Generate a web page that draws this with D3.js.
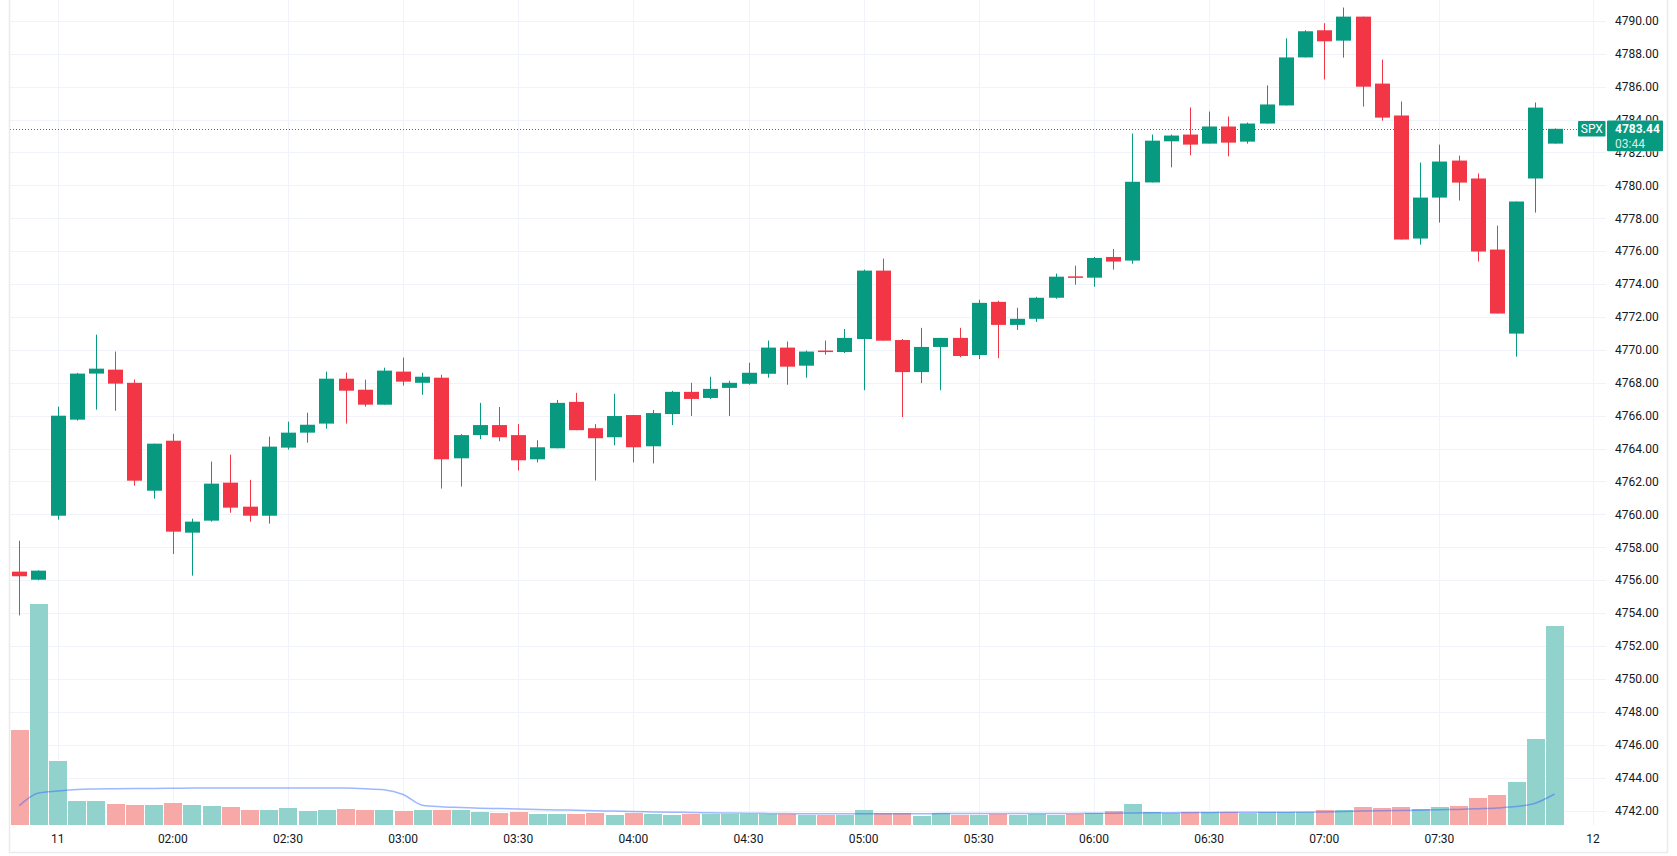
<!DOCTYPE html>
<html>
<head>
<meta charset="utf-8">
<script src="https://cdn.jsdelivr.net/npm/d3@7"></script>
<style>
    html, body { margin: 0; padding: 0; background: #fff; }
    svg { display: block; font-family: -apple-system, BlinkMacSystemFont, "Trebuchet MS", Roboto, Ubuntu, sans-serif; }
</style>
</head>
<body>
<svg id="chart" width="1677" height="856"></svg>
<script>
// 5 minute bars, SPX, day 11 from 01:20
var open = [4756.52, 4756.03, 4759.92, 4765.76, 4768.56, 4768.80, 4768.00, 4761.44, 4764.48, 4758.89,
    4759.62, 4761.93, 4760.47, 4759.92, 4764.06, 4764.97, 4765.52, 4768.25, 4767.58, 4766.67,
    4768.68, 4768.00, 4768.31, 4763.41, 4764.82, 4765.43, 4764.82, 4763.35, 4764.02, 4766.84,
    4765.24, 4764.69, 4766.04, 4764.14, 4766.10, 4767.45, 4767.08, 4767.69, 4767.94, 4768.55,
    4770.14, 4769.04, 4769.96, 4769.87, 4770.66, 4774.82, 4770.60, 4768.65, 4770.18, 4770.73,
    4769.69, 4772.92, 4771.52, 4771.89, 4773.17, 4774.47, 4774.39, 4775.65, 4775.43, 4780.18,
    4782.68, 4783.09, 4782.54, 4783.58, 4782.66, 4783.76, 4784.86, 4787.78, 4789.43, 4788.80,
    4790.26, 4786.19, 4784.25, 4776.77, 4779.26, 4781.51, 4780.42, 4776.10, 4770.99, 4780.42,
    4782.54]
var high = [4758.40, 4756.60, 4766.55, 4768.60, 4770.93, 4769.90, 4768.20, 4764.30, 4764.90, 4759.74,
    4763.21, 4763.63, 4762.10, 4764.73, 4765.64, 4766.18, 4768.68, 4768.62, 4768.19, 4768.92,
    4769.53, 4768.61, 4768.49, 4764.88, 4766.78, 4766.53, 4765.49, 4764.51, 4766.96, 4767.39,
    4765.49, 4767.33, 4766.04, 4766.35, 4767.51, 4768.00, 4768.37, 4768.12, 4769.22, 4770.57,
    4770.51, 4769.96, 4770.57, 4771.27, 4774.88, 4775.55, 4770.66, 4771.34, 4770.73, 4771.34,
    4773.05, 4772.99, 4772.56, 4773.23, 4774.64, 4775.12, 4775.65, 4776.14, 4783.15, 4783.09,
    4783.09, 4784.74, 4784.49, 4784.19, 4783.82, 4786.08, 4788.94, 4789.43, 4789.86, 4790.81,
    4790.26, 4787.65, 4785.10, 4781.39, 4782.48, 4781.81, 4780.72, 4777.56, 4779.02, 4785.04,
    4783.46]
var low = [4753.86, 4756.00, 4759.68, 4765.70, 4766.37, 4766.30, 4761.75, 4760.96, 4757.60, 4756.28,
    4759.56, 4760.10, 4759.56, 4759.44, 4763.94, 4764.36, 4765.21, 4765.52, 4766.55, 4766.67,
    4767.83, 4767.27, 4761.57, 4761.69, 4764.57, 4764.45, 4762.67, 4763.16, 4764.02, 4765.12,
    4762.06, 4764.20, 4763.16, 4763.10, 4765.43, 4765.98, 4767.02, 4765.98, 4767.88, 4768.31,
    4767.88, 4768.31, 4769.71, 4769.81, 4767.55, 4770.56, 4765.92, 4767.98, 4767.55, 4769.56,
    4769.44, 4769.50, 4771.21, 4771.70, 4773.11, 4773.96, 4773.84, 4774.88, 4775.24, 4780.18,
    4781.10, 4781.83, 4782.54, 4781.77, 4782.54, 4783.76, 4784.86, 4787.78, 4786.44, 4787.77,
    4784.79, 4783.94, 4776.71, 4776.40, 4777.74, 4779.08, 4775.37, 4772.21, 4769.59, 4778.35,
    4782.54]
var close = [4756.24, 4756.58, 4766.00, 4768.56, 4768.86, 4767.95, 4762.05, 4764.30, 4758.95, 4759.56,
    4761.87, 4760.41, 4759.92, 4764.12, 4764.97, 4765.45, 4768.25, 4767.52, 4766.67, 4768.74,
    4768.07, 4768.37, 4763.35, 4764.82, 4765.43, 4764.69, 4763.29, 4764.08, 4766.78, 4765.12,
    4764.63, 4765.98, 4764.08, 4766.16, 4767.45, 4767.02, 4767.63, 4768.00, 4768.61, 4770.14,
    4768.98, 4769.90, 4769.92, 4770.73, 4774.82, 4770.56, 4768.65, 4770.18, 4770.73, 4769.63,
    4772.86, 4771.52, 4771.89, 4773.17, 4774.45, 4774.43, 4775.59, 4775.37, 4780.22, 4782.72,
    4783.03, 4782.48, 4783.58, 4782.60, 4783.76, 4784.92, 4787.78, 4789.37, 4788.76, 4790.26,
    4786.00, 4784.12, 4776.71, 4779.26, 4781.45, 4780.17, 4775.98, 4772.21, 4779.02, 4784.73,
    4783.44]
var volume = [95, 221, 64, 24, 24, 21, 20, 20, 22, 20,
    19, 18, 15, 15, 17, 14, 15, 16, 15, 15,
    14, 15, 15, 15, 13, 12, 13, 11, 11, 11,
    12, 10, 12, 11, 10, 11, 11, 11, 11, 11,
    11, 10, 10, 10, 15, 12, 12, 9, 12, 10,
    10, 11, 10, 11, 10, 11, 12, 14, 21, 13,
    12, 13, 13, 13, 12, 13, 13, 13, 15, 15,
    18, 17, 18, 16, 18, 19, 27, 30, 43, 86,
    199]
var volumeMA = [19.4, 32, 34, 35.5, 36, 36.3, 36.5, 36.6, 36.8, 36.9,
    37, 37, 37.1, 37.1, 37.1, 37.1, 37, 36.9, 36.3, 35.3,
    30.5, 19.8, 18.2, 17.5, 16.8, 16.4, 16, 15.5, 15.1, 14.7,
    14.3, 13.9, 13.5, 13.1, 12.8, 12.5, 12.2, 12, 11.8, 11.6,
    11.4, 11.3, 11.2, 11.2, 11.3, 11.3, 11.3, 11.3, 11.4, 11.4,
    11.4, 11.4, 11.5, 11.5, 11.6, 11.6, 11.7, 11.8, 12.1, 12.2,
    12.3, 12.4, 12.6, 12.7, 12.7, 12.8, 12.8, 12.9, 13.1, 13.4,
    13.9, 14.2, 14.5, 14.8, 15.2, 15.6, 16.3, 17.1, 18.4, 21.8,
    31]

// time axis: bar index of each label
var timeTickIndex = [2, 8, 14, 20, 26, 32, 38, 44, 50, 56, 62, 68, 74, 82]
var timeTickLabels = ["11", "02:00", "02:30", "03:00", "03:30", "04:00", "04:30",
    "05:00", "05:30", "06:00", "06:30", "07:00", "07:30", "12"]
var priceTicks = [4742, 4744, 4746, 4748, 4750, 4752, 4754, 4756, 4758, 4760, 4762, 4764,
    4766, 4768, 4770, 4772, 4774, 4776, 4778, 4780, 4782, 4784, 4786, 4788, 4790]

var symbol = "SPX"
var countdown = "03:44"

var UP = "#089981", DOWN = "#f23645"
var UP_VOL = "#92d2cc", DOWN_VOL = "#f7a9a7"

var paneLeft = 10, paneRight = 1606, paneBottom = 825

var svg = d3.select("#chart")

var bars = d3.range(close.length).map(function (i) {
    return { i: i, o: open[i], h: high[i], l: low[i], c: close[i], v: volume[i], ma: volumeMA[i] }
})

var x = d3.scaleLinear().domain([0, 82]).range([19.3, 1592.9])
var y = d3.scaleLinear().domain([4742, 4790]).range([810.5, 20.9])
var yVol = d3.scaleLinear().domain([0, d3.max(volume)]).range([paneBottom, 604])

var lastV = close[close.length - 1]
var boxTop = y(lastV) - 8.3, boxH = 30.7

var defs = svg.append("defs")
defs.append("clipPath").attr("id", "pane")
    .append("rect")
    .attr("x", paneLeft).attr("y", 0)
    .attr("width", paneRight - paneLeft).attr("height", paneBottom)

// price labels are hidden behind the last price box
var axisClip = defs.append("clipPath").attr("id", "axisClip")
axisClip.append("rect").attr("x", 1600).attr("y", 0).attr("width", 77).attr("height", boxTop)
axisClip.append("rect").attr("x", 1600).attr("y", boxTop + boxH).attr("width", 77).attr("height", 856)

// grid
var grid = svg.append("g").attr("clip-path", "url(#pane)")
grid.selectAll(".hgrid")
    .data(priceTicks)
    .enter()
    .append("line")
    .attr("x1", paneLeft).attr("x2", paneRight)
    .attr("y1", (d) => Math.round(y(d)) + 0.5)
    .attr("y2", (d) => Math.round(y(d)) + 0.5)
    .attr("stroke", "#f0f3fa")
grid.selectAll(".vgrid")
    .data(timeTickIndex)
    .enter()
    .append("line")
    .attr("x1", (d) => Math.round(x(d)) + 0.5)
    .attr("x2", (d) => Math.round(x(d)) + 0.5)
    .attr("y1", 0).attr("y2", paneBottom)
    .attr("stroke", "#f0f3fa")

var pane = svg.append("g").attr("clip-path", "url(#pane)")

// volume histogram
var step = x(1) - x(0)
pane.selectAll(".vol")
    .data(bars)
    .enter()
    .append("rect")
    .attr("x", (d) => Math.round(x(d.i) - step / 2) + 1)
    .attr("width", Math.round(step) - 1)
    .attr("y", (d) => yVol(d.v))
    .attr("height", (d) => paneBottom - yVol(d.v))
    .attr("fill", (d) => d.c >= d.o ? UP_VOL : DOWN_VOL)

// volume moving average
pane.append("path")
    .datum(bars)
    .attr("fill", "none")
    .attr("stroke", "rgba(41,98,255,0.45)")
    .attr("stroke-width", 1.5)
    .attr("d", d3.line()
        .x((d) => x(d.i))
        .y((d) => yVol(d.ma))
        .curve(d3.curveMonotoneX))

// last price line
var lastY = Math.round(y(lastV)) + 0.5
svg.append("line")
    .attr("x1", paneLeft).attr("x2", 1578)
    .attr("y1", lastY).attr("y2", lastY)
    .attr("stroke", UP)
    .attr("stroke-dasharray", "1,2")

// candles
var candle = pane.selectAll(".candle")
    .data(bars)
    .enter()
    .append("g")
    .attr("fill", (d) => d.c >= d.o ? UP : DOWN)

candle.append("rect")
    .attr("x", (d) => Math.round(x(d.i)))
    .attr("width", 1)
    .attr("y", (d) => y(d.h))
    .attr("height", (d) => Math.max(1, y(d.l) - y(d.h)))

candle.append("rect")
    .attr("x", (d) => Math.round(x(d.i)) - 7)
    .attr("width", 15)
    .attr("y", (d) => y(Math.max(d.o, d.c)))
    .attr("height", (d) => Math.max(1.5, Math.abs(y(d.o) - y(d.c))))

// price axis
svg.append("g")
    .attr("clip-path", "url(#axisClip)")
    .selectAll("text")
    .data(priceTicks)
    .enter()
    .append("text")
    .attr("x", 1615)
    .attr("y", (d) => y(d))
    .attr("dy", "0.35em")
    .attr("font-size", 12)
    .attr("fill", "#131722")
    .text((d) => d.toFixed(2))

// time axis
svg.append("g")
    .selectAll("text")
    .data(timeTickIndex)
    .enter()
    .append("text")
    .attr("x", (d) => x(d))
    .attr("y", 843)
    .attr("text-anchor", "middle")
    .attr("font-size", 12)
    .attr("fill", "#131722")
    .text((d, i) => timeTickLabels[i])

// last price labels
svg.append("rect")
    .attr("x", 1578).attr("y", y(lastV) - 7.8)
    .attr("width", 27.5).attr("height", 15.6)
    .attr("rx", 1)
    .attr("fill", UP)
svg.append("text")
    .attr("x", 1591.8).attr("y", y(lastV))
    .attr("dy", "0.35em")
    .attr("text-anchor", "middle")
    .attr("font-size", 12)
    .attr("fill", "#fff")
    .text(symbol)

svg.append("rect")
    .attr("x", 1607).attr("y", boxTop)
    .attr("width", 56).attr("height", boxH)
    .attr("rx", 1)
    .attr("fill", UP)
svg.append("text")
    .attr("x", 1615).attr("y", y(lastV))
    .attr("dy", "0.35em")
    .attr("font-size", 12)
    .attr("font-weight", "bold")
    .attr("fill", "#fff")
    .text(lastV.toFixed(2))
svg.append("text")
    .attr("x", 1615).attr("y", y(lastV) + 14.5)
    .attr("dy", "0.35em")
    .attr("font-size", 12)
    .attr("fill", "rgba(255,255,255,0.85)")
    .text(countdown)

// widget border
svg.append("path")
    .attr("d", "M9.5,0 V852.5 H1667.5 V0")
    .attr("fill", "none")
    .attr("stroke", "#e9ebf0")
    .attr("stroke-width", 1.5)
</script>
</body>
</html>
